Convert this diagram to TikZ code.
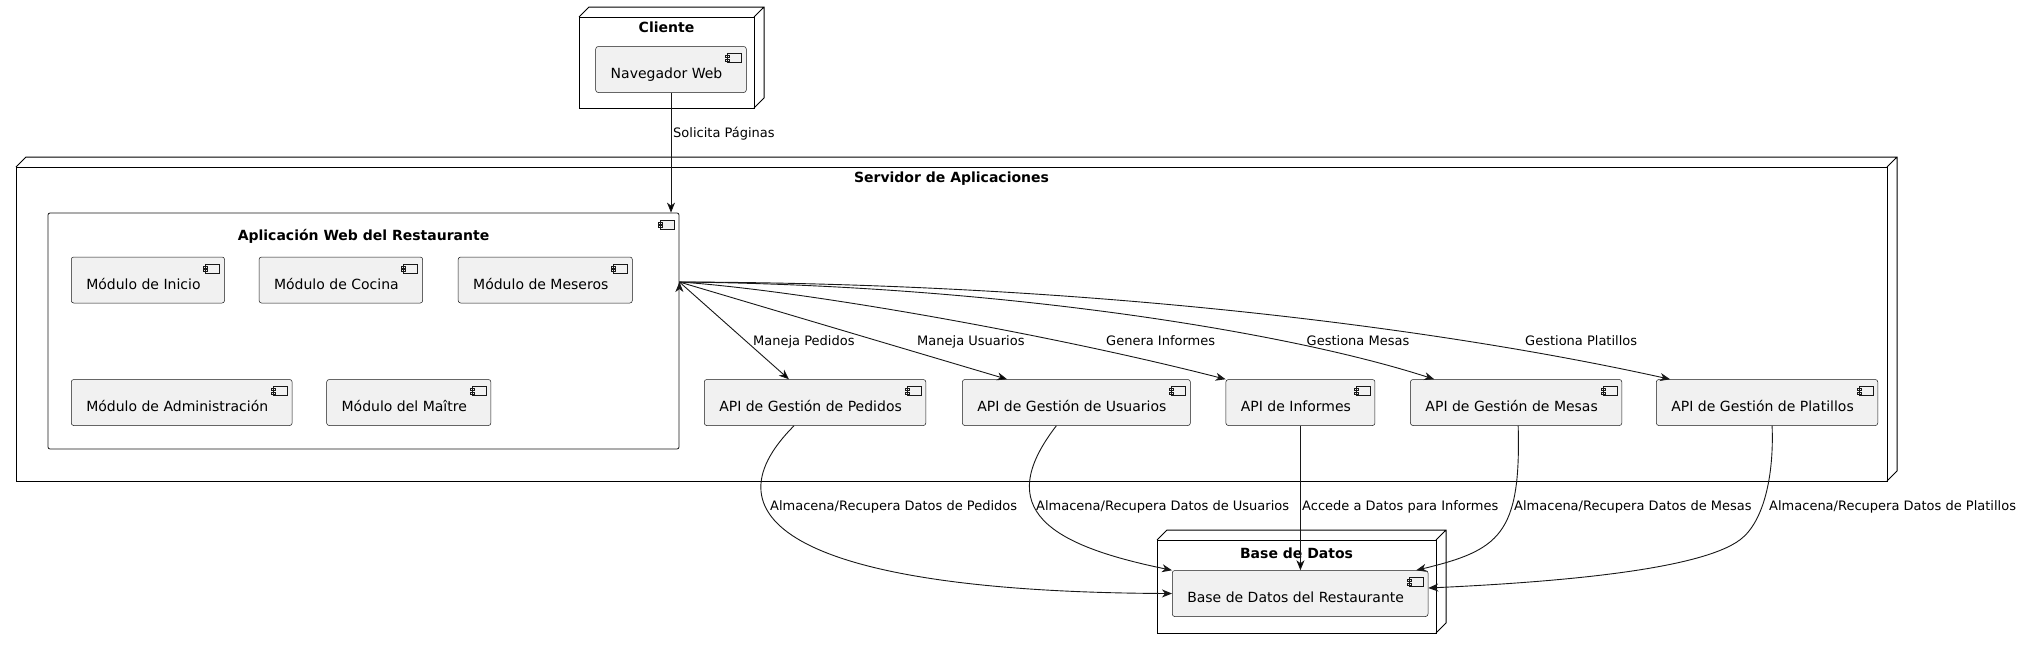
\documentclass[tikz,border=0pt]{standalone}
\usepackage{fontspec}
\setmainfont{DejaVu Sans}
\usepackage{tikz}
\usetikzlibrary{positioning,arrows.meta}
\definecolor{compfill}{HTML}{F1F1F1}
\definecolor{compline}{HTML}{181818}
\tikzset{
  comp icon/.style={path picture={
      \draw[sharp corners, line width=0.5pt, draw=compline, fill=compfill]
        ([shift={(-19,7)}]path picture bounding box.north east) rectangle ++(14,9)
        ([shift={(-21,9)}]path picture bounding box.north east) rectangle ++(4,2)
        ([shift={(-21,12.5)}]path picture bounding box.north east) rectangle ++(4,2);}},
  comp node/.style={draw=compline, line width=0.5pt, fill=compfill, rounded corners=2.5pt,
      minimum height=46pt, inner xsep=15pt, inner ysep=0pt, text height=20pt, text depth=2pt,
      font=\fontsize{14}{16}\selectfont, execute at end node={\hspace{9pt}}, comp icon},
  app node/.style={draw=compline, line width=0.8pt, fill=white, rounded corners=2pt,
      inner sep=0pt, comp icon},
  box node/.style={draw=black, line width=1pt, fill=white, inner sep=0pt, outer sep=0pt},
  box title/.style={font=\fontsize{14}{16}\selectfont\bfseries, anchor=base, inner sep=0pt},
  link label/.style={font=\fontsize{13}{15}\selectfont, anchor=base west, inner sep=0pt},
  link/.style={draw=compline, line width=0.9pt, -{Stealth[length=10pt,width=8pt,inset=3pt]}},
}
\newcommand{\boxdepth}[1]{%
  \draw[line width=1pt] (#1.north west) -- ++(10,-10) -| ([shift={(10,-10)}]#1.south east)
    -- (#1.south east) (#1.north east) -- ++(10,-10);}

\begin{document}
\begin{tikzpicture}[x=1pt, y=-1pt]
  \path[use as bounding box, fill=white] (0,0) rectangle (2021,649);
  % Nodes
  \node[box node, minimum width=175pt, minimum height=91pt] (cliente) at (666.5,62.5) {};
  \boxdepth{cliente}
  \node[box title] (cliente title) at (666.5,32) {Cliente};
  \node[comp node] (nav) at (671,69.5) {Navegador Web};

  \node[box node, minimum width=1871pt, minimum height=314pt] (servidor) at (951.5,324) {};
  \boxdepth{servidor}
  \node[box title] (servidor title) at (951.5,182) {Servidor de Aplicaciones};
  \node[app node, minimum width=631pt, minimum height=236pt] (app) at (363.5,331) {};
  \node[box title] (app title) at (363.5,240) {Aplicación Web del Restaurante};
  \node[comp node, anchor=west] (inicio) at (71,280) {Módulo de Inicio};
  \node[comp node, right=34pt of inicio] (cocina) {Módulo de Cocina};
  \node[comp node, right=35pt of cocina] (meseros) {Módulo de Meseros};
  \node[comp node, anchor=west] (admin) at (71,402.5) {Módulo de Administración};
  \node[comp node, right=34pt of admin] (maitre) {Módulo del Maître};
  \node[comp node, anchor=west] (pedidos) at (704,402.5) {API de Gestión de Pedidos};
  \node[comp node, right=36pt of pedidos] (usuarios) {API de Gestión de Usuarios};
  \node[comp node, right=35pt of usuarios] (informes) {API de Informes};
  \node[comp node, right=35pt of informes] (mesas) {API de Gestión de Mesas};
  \node[comp node, right=34pt of mesas] (platillos) {API de Gestión de Platillos};

  \node[box node, minimum width=279pt, minimum height=93pt] (bd) at (1296.5,586.5) {};
  \boxdepth{bd}
  \node[box title] (bd title) at (1296.5,558) {Base de Datos};
  \node[comp node, anchor=west] (bdr) at (1172,593.5) {Base de Datos del Restaurante};

  % Paths
  \coordinate (app out) at ([shift={(0,-49)}]app.east);
  \path[link]
    (nav) edge (nav |- app.north)
    (app out) edge (pedidos)
    (app out) edge ([xshift=45pt]usuarios.north west);
  \draw[link] (app out) .. controls +(121,8) and +(-175,-45) .. (informes.north west);
  \draw[link] (app out) .. controls +(321,3) and +(-145,-47) .. ([xshift=24pt]mesas.north west);
  \draw[link] (app out) .. controls +(421,1) and +(-221,-49) .. ([xshift=14pt]platillos.north west);
  \draw[link] ([xshift=-21pt]pedidos.south) .. controls +(-94,94) and +(-372,-1.5) .. (bdr.west);
  \draw[link] ([xshift=-20pt]usuarios.south) .. controls +(-65,84) and +(-122,-25) .. (bdr.north west);
  \path[link] (informes) edge (informes |- bdr.north);
  \draw[link] ([xshift=2pt]mesas.south) .. controls +(3,109) and +(83,-20) .. ([xshift=-12pt]bdr.north east);
  \draw[link] ([xshift=5pt]platillos.south) .. controls +(2,49) and +(24,-18) .. ++(-32,114)
    .. controls +(-40,30) and +(131,-6) .. ([yshift=5.5pt]bdr.east);

  % Labels
  \node[link label] (l solicita) at (673,137) {Solicita Páginas};
  \node[link label] (l pedidos) at (753,345.5) {Maneja Pedidos};
  \node[link label] (l usuarios) at (917,345.5) {Maneja Usuarios};
  \node[link label] (l informes) at (1106,345.5) {Genera Informes};
  \node[link label] (l mesas) at (1306.5,345.5) {Gestiona Mesas};
  \node[link label] (l platillos) at (1525,345.5) {Gestiona Platillos};
  \node[link label] (d pedidos) at (770,510.5) {Almacena/Recupera Datos de Pedidos};
  \node[link label] (d usuarios) at (1036,510.5) {Almacena/Recupera Datos de Usuarios};
  \node[link label] (d informes) at (1302,510.5) {Accede a Datos para Informes};
  \node[link label] (d mesas) at (1514,510.5) {Almacena/Recupera Datos de Mesas};
  \node[link label] (d platillos) at (1769,510.5) {Almacena/Recupera Datos de Platillos};
\end{tikzpicture}
\end{document}
